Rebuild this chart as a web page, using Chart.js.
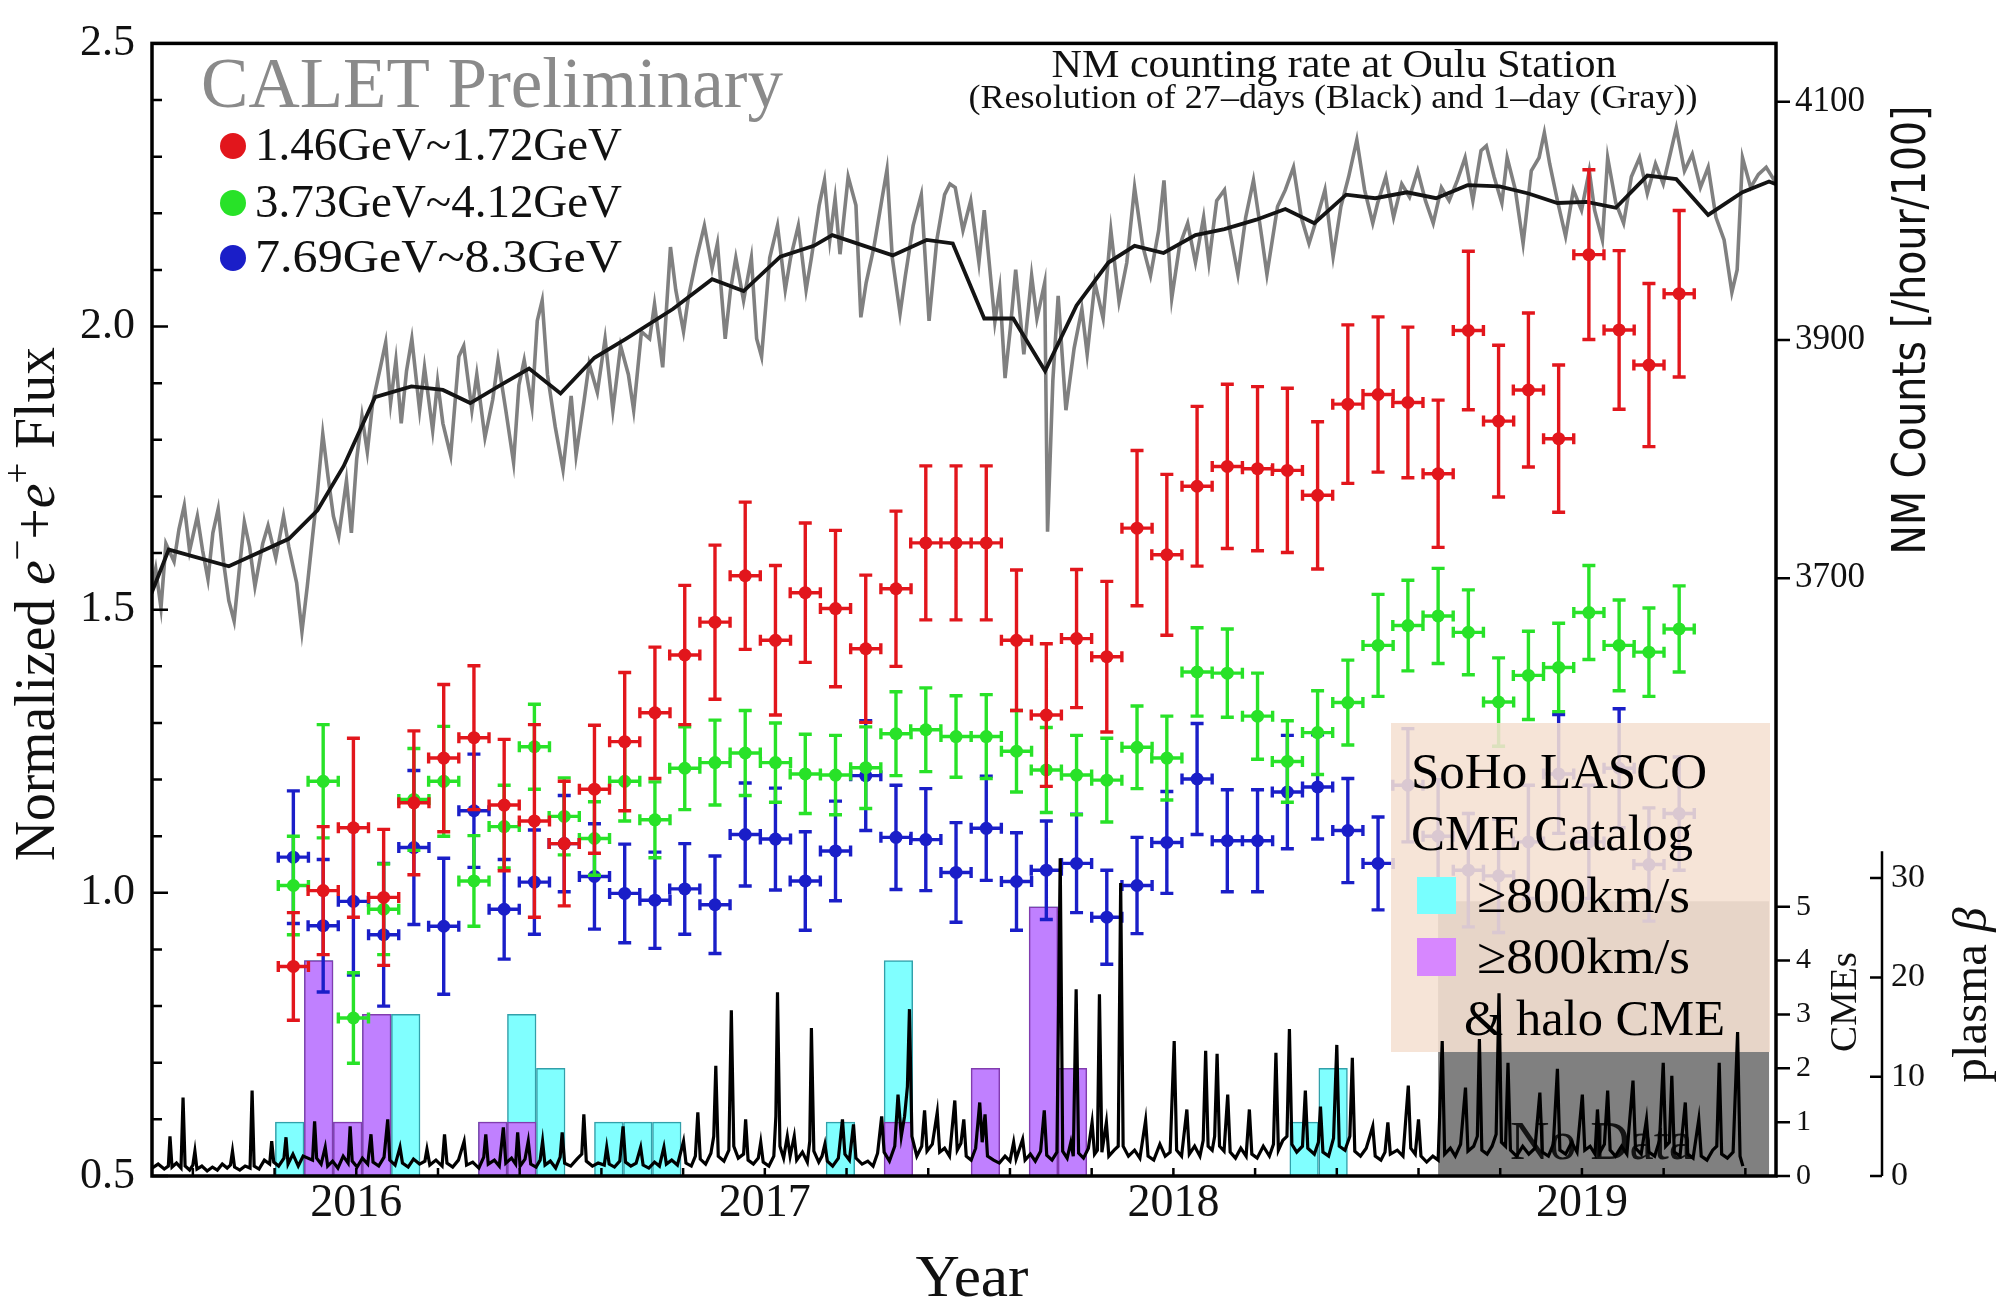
<!DOCTYPE html>
<html>
<head>
<meta charset="utf-8">
<script src="https://cdn.jsdelivr.net/npm/chart.js@4.4.1/dist/chart.umd.min.js"></script>
<style>
html,body{margin:0;padding:0;background:#fff;}
canvas{display:block;}
</style>
</head>
<body>
<canvas id="c" width="2014" height="1303"></canvas>
<script>
// ================= DATA =================
const yearTicks = [2016, 2017, 2018, 2019];
const fluxTicks = [0.5, 1.0, 1.5, 2.0, 2.5];
const nmTicks = [3700, 3900, 4100];
const cmeTicks = [0, 1, 2, 3, 4, 5];
const betaTicks = [0, 10, 20, 30];

const energyLabels = ['1.46GeV~1.72GeV', '3.73GeV~4.12GeV', '7.69GeV~8.3GeV'];

// 27-day bin centres (decimal year) of the CALET flux points
const fluxYears = [2015.846,2015.919,2015.993,2016.067,2016.141,2016.214,2016.288,2016.362,2016.436,2016.509,
  2016.583,2016.657,2016.731,2016.804,2016.878,2016.952,2017.026,2017.099,2017.173,2017.247,
  2017.321,2017.394,2017.468,2017.542,2017.616,2017.689,2017.763,2017.837,2017.911,2017.984,
  2018.058,2018.132,2018.206,2018.279,2018.353,2018.427,2018.501,2018.574,2018.648,2018.722,
  2018.796,2018.869,2018.943,2019.017,2019.091,2019.164,2019.238];
const fluxHalfBin = 0.0369;

const redFlux = [0.870,1.004,1.115,0.992,1.159,1.238,1.274,1.155,1.127,1.087,
  1.183,1.267,1.318,1.420,1.478,1.560,1.446,1.530,1.502,1.431,
  1.537,1.618,1.618,1.618,1.446,1.314,1.449,1.417,1.644,1.597,
  1.718,1.753,1.749,1.746,1.702,1.863,1.880,1.866,1.740,1.993,
  1.833,1.888,1.802,2.127,1.994,1.932,2.058];
const redErr = [0.095,0.113,0.158,0.12,0.127,0.13,0.127,0.116,0.17,0.11,
  0.113,0.122,0.116,0.123,0.136,0.13,0.132,0.123,0.138,0.13,
  0.137,0.136,0.136,0.136,0.124,0.126,0.122,0.133,0.137,0.142,
  0.141,0.145,0.145,0.145,0.13,0.14,0.137,0.133,0.13,0.14,
  0.134,0.136,0.13,0.15,0.14,0.144,0.147];

const greenFlux = [1.013,1.197,0.779,0.971,1.165,1.197,1.021,1.117,1.258,1.135,
  1.096,1.197,1.129,1.220,1.230,1.247,1.230,1.210,1.208,1.221,
  1.281,1.288,1.276,1.276,1.250,1.217,1.208,1.199,1.257,1.238,
  1.390,1.388,1.312,1.232,1.283,1.336,1.437,1.472,1.489,1.460,
  1.337,1.384,1.398,1.495,1.437,1.425,1.466];
const greenErr = [0.087,0.10,0.08,0.08,0.09,0.097,0.08,0.073,0.075,0.068,
  0.065,0.07,0.067,0.073,0.075,0.075,0.07,0.07,0.07,0.072,
  0.074,0.074,0.072,0.074,0.072,0.075,0.07,0.074,0.073,0.074,
  0.078,0.078,0.076,0.072,0.074,0.075,0.09,0.08,0.084,0.075,
  0.078,0.078,0.078,0.083,0.08,0.078,0.076];

const blueFlux = [1.063,0.942,0.985,0.926,1.080,0.941,1.145,0.971,1.019,1.087,
  1.029,0.999,0.987,1.007,0.979,1.103,1.095,1.021,1.074,1.207,
  1.098,1.094,1.036,1.114,1.020,1.040,1.052,0.957,1.013,1.089,
  1.201,1.092,1.092,1.178,1.187,1.110,1.052,1.19,1.10,1.04,
  1.03,1.09,1.21,1.09,1.22,1.05,1.14];
const blueErr = [0.117,0.117,0.13,0.126,0.136,0.12,0.10,0.088,0.092,0.085,
  0.093,0.087,0.085,0.08,0.086,0.091,0.09,0.087,0.088,0.097,
  0.092,0.09,0.088,0.092,0.086,0.087,0.087,0.083,0.085,0.09,
  0.098,0.09,0.09,0.10,0.092,0.092,0.082,0.1,0.1,0.1,
  0.1,0.1,0.105,0.1,0.105,0.1,0.1];

// SoHo LASCO CME counts per bin
const barYears = [2015.837,2015.908,2015.979,2016.050,2016.121,2016.192,2016.263,2016.334,2016.405,2016.476,
  2016.547,2016.618,2016.689,2016.760,2016.831,2016.901,2016.972,2017.043,2017.114,2017.185,
  2017.256,2017.327,2017.398,2017.469,2017.540,2017.611,2017.682,2017.753,2017.824,2017.895,
  2017.966,2018.037,2018.108,2018.179,2018.250,2018.320,2018.391];
const cmeFast = [1,4,1,3,3,0,0,1,3,2, 0,1,1,1,0,0,0,0,0,1, 0,4,0,0,2,0,5,2,0,0, 0,0,0,0,0,1,2];
const cmeHalo = [0,4,1,3,0,0,0,1,1,0, 0,0,0,0,0,0,0,0,0,0, 0,1,0,0,2,0,5,2,0,0, 0,0,0,0,0,0,0];

const noDataYears = [2018.648, 2019.458];
const noDataCmeTop = 5.1;
const betaAxisTop = 32.7;

// Oulu NM counting rate, 27-day resolution [year, counts/hour/100]
const nm27 = [[2015.496,3685],[2015.541,3724],[2015.688,3710],[2015.835,3733],[2015.905,3757],[2015.969,3794],
  [2016.046,3852],[2016.135,3861],[2016.212,3858],[2016.279,3847],[2016.353,3862],[2016.423,3876],[2016.500,3855],
  [2016.583,3885],[2016.660,3901],[2016.775,3926],[2016.871,3951],[2016.948,3941],[2017.038,3970],[2017.120,3979],
  [2017.165,3988],[2017.313,3971],[2017.396,3984],[2017.460,3981],[2017.537,3918],[2017.608,3918],[2017.686,3874],
  [2017.763,3929],[2017.841,3965],[2017.905,3979],[2017.976,3973],[2018.054,3988],[2018.125,3993],[2018.203,4001],
  [2018.274,4010],[2018.345,3998],[2018.423,4022],[2018.494,4019],[2018.572,4024],[2018.643,4019],[2018.720,4030],
  [2018.798,4029],[2018.869,4023],[2018.940,4015],[2019.011,4016],[2019.083,4011],[2019.160,4038],[2019.231,4035],
  [2019.309,4005],[2019.393,4024],[2019.458,4033],[2019.481,4030]];

// Oulu NM counting rate, 1-day resolution (traced peaks and troughs)
const nmDaily = [[2015.496,3687],[2015.509,3708],[2015.522,3675],[2015.534,3729],[2015.554,3714],[2015.566,3741],
  [2015.579,3761],[2015.592,3723],[2015.611,3752],[2015.624,3723],[2015.637,3699],[2015.649,3738],[2015.662,3758],
  [2015.675,3714],[2015.688,3681],[2015.701,3664],[2015.713,3705],[2015.726,3747],[2015.739,3726],[2015.752,3693],
  [2015.771,3729],[2015.784,3744],[2015.803,3717],[2015.822,3752],[2015.835,3726],[2015.854,3696],[2015.867,3655],
  [2015.880,3693],[2015.893,3735],[2015.905,3773],[2015.918,3821],[2015.931,3785],[2015.944,3752],[2015.957,3735],
  [2015.976,3782],[2015.988,3738],[2016.001,3800],[2016.014,3836],[2016.027,3806],[2016.040,3847],[2016.059,3877],
  [2016.072,3898],[2016.084,3847],[2016.097,3883],[2016.110,3830],[2016.123,3874],[2016.136,3901],[2016.155,3841],
  [2016.167,3877],[2016.187,3824],[2016.199,3865],[2016.212,3830],[2016.231,3803],[2016.251,3886],[2016.263,3895],
  [2016.283,3841],[2016.295,3871],[2016.315,3818],[2016.334,3850],[2016.347,3883],[2016.366,3841],[2016.385,3797],
  [2016.398,3862],[2016.411,3883],[2016.430,3844],[2016.443,3916],[2016.455,3933],[2016.468,3871],[2016.487,3827],
  [2016.506,3791],[2016.526,3853],[2016.538,3803],[2016.558,3850],[2016.570,3880],[2016.590,3856],[2016.609,3901],
  [2016.628,3841],[2016.647,3895],[2016.666,3871],[2016.679,3841],[2016.698,3907],[2016.718,3901],[2016.730,3930],
  [2016.750,3877],[2016.769,3978],[2016.782,3942],[2016.801,3907],[2016.813,3936],[2016.833,3969],[2016.852,3996],
  [2016.871,3960],[2016.884,3981],[2016.903,3901],[2016.916,3942],[2016.929,3969],[2016.948,3933],[2016.967,3969],
  [2016.980,3901],[2016.992,3886],[2017.012,3969],[2017.031,3996],[2017.050,3942],[2017.063,3969],[2017.082,3996],
  [2017.101,3942],[2017.114,3969],[2017.133,4013],[2017.146,4034],[2017.159,3984],[2017.172,4019],[2017.184,3972],
  [2017.204,4037],[2017.223,4013],[2017.235,3919],[2017.248,3948],[2017.267,3978],[2017.287,4019],[2017.299,4043],
  [2017.312,3969],[2017.331,3922],[2017.344,3954],[2017.363,3996],[2017.383,4022],[2017.402,3916],[2017.421,3984],
  [2017.440,4022],[2017.453,4031],[2017.466,4028],[2017.485,3992],[2017.504,4017],[2017.524,3965],[2017.537,4009],
  [2017.550,3962],[2017.563,3915],[2017.575,3943],[2017.588,3868],[2017.601,3910],[2017.614,3959],[2017.634,3888],
  [2017.653,3954],[2017.666,3918],[2017.685,3948],[2017.692,3739],[2017.705,3866],[2017.718,3937],[2017.737,3841],
  [2017.757,3893],[2017.776,3926],[2017.789,3888],[2017.808,3948],[2017.828,3918],[2017.847,3992],[2017.867,3932],
  [2017.886,3965],[2017.905,4028],[2017.925,3979],[2017.944,3954],[2017.964,3992],[2017.977,4034],[2017.996,3935],
  [2018.015,3979],[2018.035,3998],[2018.054,3965],[2018.074,4003],[2018.087,3965],[2018.106,4017],[2018.125,4026],
  [2018.138,3992],[2018.158,3955],[2018.177,4003],[2018.196,4034],[2018.216,3987],[2018.229,3955],[2018.255,4012],
  [2018.274,4026],[2018.294,4045],[2018.313,4003],[2018.332,3981],[2018.352,4003],[2018.371,4026],[2018.391,3970],
  [2018.410,4012],[2018.429,4037],[2018.449,4068],[2018.468,4026],[2018.488,3998],[2018.500,4015],[2018.520,4037],
  [2018.539,4003],[2018.559,4031],[2018.578,4020],[2018.598,4042],[2018.617,4017],[2018.636,3998],[2018.656,4028],
  [2018.675,4017],[2018.695,4034],[2018.714,4053],[2018.733,4017],[2018.753,4059],[2018.766,4063],[2018.785,4037],
  [2018.804,4015],[2018.817,4053],[2018.837,4026],[2018.856,3981],[2018.876,4042],[2018.895,4053],[2018.908,4074],
  [2018.921,4048],[2018.940,4017],[2018.960,3987],[2018.979,4026],[2018.999,4009],[2019.018,4042],[2019.031,4009],
  [2019.050,3984],[2019.063,4053],[2019.083,4015],[2019.102,3998],[2019.121,4037],[2019.141,4053],[2019.160,4023],
  [2019.180,4048],[2019.199,4031],[2019.218,4059],[2019.231,4078],[2019.251,4042],[2019.270,4056],[2019.290,4028],
  [2019.309,4045],[2019.328,4003],[2019.348,3984],[2019.367,3940],[2019.380,3959],[2019.393,4053],[2019.413,4028],
  [2019.432,4039],[2019.451,4045],[2019.471,4034],[2019.481,4042]];

// plasma beta (daily, traced baseline and spikes)
const plasmaBeta = [[2015.500,0.8],[2015.515,1.2],[2015.530,0.7],[2015.540,1.0],[2015.544,4.0],[2015.549,0.9],[2015.560,1.3],[2015.571,0.8],[2015.576,7.9],[2015.581,1.0],
  [2015.592,0.6],[2015.600,1.1],[2015.605,2.5],[2015.610,0.7],[2015.622,1.0],[2015.635,0.5],[2015.648,0.9],[2015.660,0.6],[2015.672,1.2],[2015.684,0.8],
  [2015.692,1.1],[2015.697,2.5],[2015.702,0.9],[2015.715,0.6],[2015.728,1.0],[2015.740,0.8],[2015.745,8.6],[2015.750,1.0],[2015.762,0.7],[2015.775,1.6],
  [2015.788,1.2],[2015.793,3.5],[2015.798,1.4],[2015.810,1.0],[2015.823,1.8],[2015.828,3.9],[2015.833,1.2],[2015.845,2.2],[2015.858,1.0],[2015.870,2.0],
  [2015.893,1.6],[2015.898,5.5],[2015.903,1.8],[2015.914,1.2],[2015.924,2.9],[2015.930,1.0],[2015.942,1.5],[2015.955,0.8],[2015.968,2.0],[2015.980,1.3],
  [2015.985,5.0],[2015.990,1.5],[2016.002,0.9],[2016.015,1.8],[2016.028,1.2],[2016.036,4.2],[2016.041,1.4],[2016.055,1.0],[2016.068,1.9],[2016.077,5.7],
  [2016.082,1.6],[2016.095,1.1],[2016.107,2.9],[2016.113,1.3],[2016.127,0.9],[2016.140,1.7],[2016.155,1.2],[2016.168,1.5],[2016.173,2.7],[2016.180,1.1],
  [2016.195,1.6],[2016.210,1.0],[2016.216,4.2],[2016.222,1.3],[2016.236,0.9],[2016.250,1.6],[2016.264,3.5],[2016.270,1.1],[2016.285,1.4],[2016.300,0.8],
  [2016.312,1.9],[2016.317,4.2],[2016.323,1.2],[2016.338,1.6],[2016.350,1.0],[2016.360,4.9],[2016.366,1.3],[2016.380,1.8],[2016.390,1.2],[2016.395,4.4],
  [2016.401,1.0],[2016.413,1.7],[2016.421,3.5],[2016.427,1.2],[2016.440,0.9],[2016.450,1.6],[2016.456,3.5],[2016.462,1.1],[2016.475,1.5],[2016.488,0.8],
  [2016.499,1.9],[2016.504,4.4],[2016.510,1.3],[2016.525,1.0],[2016.540,1.7],[2016.552,2.2],[2016.557,6.2],[2016.563,1.5],[2016.578,1.0],[2016.592,1.3],
  [2016.607,1.1],[2016.613,2.9],[2016.619,1.2],[2016.632,0.9],[2016.645,1.5],[2016.653,5.0],[2016.659,1.4],[2016.672,1.0],[2016.685,1.3],[2016.696,2.9],
  [2016.702,1.1],[2016.716,0.8],[2016.730,1.4],[2016.742,1.0],[2016.753,2.9],[2016.759,1.2],[2016.772,1.6],[2016.786,1.1],[2016.801,3.5],[2016.807,1.3],
  [2016.820,1.0],[2016.830,2.0],[2016.836,6.4],[2016.842,1.7],[2016.855,1.2],[2016.868,2.3],[2016.875,4.0],[2016.880,11.1],[2016.886,2.0],[2016.900,1.5],
  [2016.912,2.6],[2016.918,16.7],[2016.924,3.0],[2016.935,1.8],[2016.948,2.2],[2016.953,5.7],[2016.959,1.6],[2016.972,1.2],[2016.984,1.8],[2016.990,3.4],
  [2016.996,1.4],[2017.010,1.0],[2017.022,2.0],[2017.027,6.0],[2017.031,18.5],[2017.037,3.0],[2017.046,1.8],[2017.055,4.0],[2017.062,2.0],[2017.072,4.0],
  [2017.078,1.6],[2017.092,2.4],[2017.104,1.4],[2017.110,3.5],[2017.114,14.9],[2017.120,2.5],[2017.132,1.4],[2017.140,2.0],[2017.147,3.2],[2017.153,1.5],
  [2017.166,1.0],[2017.180,1.8],[2017.190,5.7],[2017.196,2.2],[2017.207,1.6],[2017.217,5.2],[2017.223,1.8],[2017.238,1.2],[2017.252,1.5],[2017.265,1.0],
  [2017.276,2.3],[2017.286,6.0],[2017.292,2.4],[2017.305,1.5],[2017.318,3.0],[2017.326,8.2],[2017.334,4.0],[2017.342,6.0],[2017.349,9.0],[2017.354,16.8],
  [2017.360,4.0],[2017.372,2.0],[2017.384,3.0],[2017.391,6.6],[2017.397,2.5],[2017.410,3.2],[2017.422,6.4],[2017.428,2.4],[2017.440,2.8],[2017.452,2.0],
  [2017.465,7.6],[2017.471,2.6],[2017.480,3.3],[2017.487,5.7],[2017.493,2.0],[2017.505,1.6],[2017.516,2.8],[2017.526,7.4],[2017.532,3.4],[2017.539,6.2],
  [2017.545,2.0],[2017.560,1.6],[2017.574,1.3],[2017.588,2.0],[2017.600,1.5],[2017.609,3.4],[2017.615,1.7],[2017.631,3.7],[2017.637,1.6],[2017.650,2.2],
  [2017.662,1.5],[2017.675,2.5],[2017.684,6.6],[2017.690,2.1],[2017.703,1.6],[2017.715,2.4],[2017.723,32.0],[2017.729,2.5],[2017.740,1.8],[2017.749,3.4],
  [2017.755,2.0],[2017.762,18.8],[2017.768,2.3],[2017.780,1.8],[2017.792,2.8],[2017.801,5.4],[2017.807,2.2],[2017.814,2.6],[2017.819,18.3],[2017.825,2.4],
  [2017.836,5.4],[2017.842,2.0],[2017.855,2.6],[2017.865,3.0],[2017.871,29.5],[2017.877,3.0],[2017.890,2.0],[2017.905,2.6],[2017.918,1.8],[2017.932,5.6],
  [2017.938,2.0],[2017.952,1.6],[2017.967,3.2],[2017.980,2.0],[2017.992,2.4],[2018.002,13.6],[2018.008,2.6],[2018.020,2.0],[2018.033,6.7],[2018.039,2.2],
  [2018.052,3.0],[2018.065,2.0],[2018.073,3.6],[2018.079,12.6],[2018.085,3.0],[2018.095,2.6],[2018.101,4.0],[2018.107,12.3],[2018.113,3.0],[2018.124,2.5],
  [2018.133,8.2],[2018.139,2.4],[2018.152,1.8],[2018.165,2.8],[2018.178,2.0],[2018.186,6.7],[2018.192,2.2],[2018.205,1.8],[2018.220,3.0],[2018.235,2.0],
  [2018.245,3.2],[2018.251,12.4],[2018.257,2.6],[2018.268,3.6],[2018.278,4.0],[2018.284,14.8],[2018.290,3.2],[2018.302,2.4],[2018.316,3.0],[2018.323,8.6],
  [2018.329,2.8],[2018.345,2.2],[2018.355,3.4],[2018.360,7.0],[2018.366,2.4],[2018.380,2.0],[2018.392,3.8],[2018.400,13.2],[2018.406,3.0],[2018.420,2.6],
  [2018.432,4.0],[2018.438,11.9],[2018.444,2.5],[2018.458,2.0],[2018.472,2.8],[2018.488,5.0],[2018.494,2.0],[2018.508,1.6],[2018.518,2.4],[2018.525,5.4],
  [2018.531,2.2],[2018.548,2.6],[2018.562,2.0],[2018.575,9.1],[2018.581,2.8],[2018.592,2.2],[2018.600,5.7],[2018.606,2.0],[2018.620,1.4],[2018.635,2.0],
  [2018.648,1.6],[2018.658,13.6],[2018.664,2.2],[2018.678,2.8],[2018.690,2.0],[2018.703,3.2],[2018.715,8.9],[2018.721,2.5],[2018.735,3.0],[2018.744,4.0],
  [2018.749,13.8],[2018.755,2.6],[2018.768,2.2],[2018.780,3.0],[2018.790,4.2],[2018.797,18.4],[2018.803,3.4],[2018.813,3.0],[2018.819,11.4],[2018.825,2.6],
  [2018.840,2.0],[2018.855,3.0],[2018.870,2.2],[2018.885,2.8],[2018.897,8.4],[2018.903,2.4],[2018.918,2.0],[2018.930,3.2],[2018.940,10.8],[2018.946,2.6],
  [2018.960,2.2],[2018.975,3.4],[2018.988,2.4],[2019.001,8.2],[2019.007,2.6],[2019.020,3.0],[2019.032,2.2],[2019.038,6.7],[2019.044,2.4],[2019.055,3.2],
  [2019.063,8.6],[2019.069,2.6],[2019.082,2.0],[2019.097,3.0],[2019.110,2.2],[2019.125,9.6],[2019.131,2.8],[2019.145,2.2],[2019.158,5.7],[2019.164,2.4],
  [2019.178,2.0],[2019.190,3.6],[2019.199,11.4],[2019.205,3.0],[2019.214,3.4],[2019.220,10.1],[2019.226,2.4],[2019.240,2.0],[2019.253,7.4],[2019.259,2.2],
  [2019.272,1.8],[2019.286,5.7],[2019.292,2.0],[2019.306,1.6],[2019.320,2.6],[2019.330,3.0],[2019.336,11.4],[2019.342,2.2],[2019.356,1.8],[2019.370,2.4],
  [2019.381,14.5],[2019.387,2.0],[2019.394,1.0]];

// ================= RENDERING =================
const SERIF = '"Liberation Serif","Times New Roman",serif';
const SANS = '"DejaVu Sans","Liberation Sans",sans-serif';
const RED = 'rgb(226,22,28)', GREEN = 'rgb(40,226,40)', BLUE = 'rgb(26,30,200)';

function fitText(ctx, str, x, y, font, width, align, color) {
  ctx.save();
  ctx.font = font; ctx.fillStyle = color || '#000';
  ctx.textBaseline = 'alphabetic'; ctx.textAlign = 'left';
  const w = ctx.measureText(str).width;
  const s = width ? width / w : 1;
  let x0 = x;
  if (align === 'center') x0 = x - w * s / 2;
  else if (align === 'right') x0 = x - w * s;
  ctx.translate(x0, y); ctx.scale(s, 1);
  ctx.fillText(str, 0, 0);
  ctx.restore();
}
function rotText(ctx, segs, cx, cy, totalWidth, color) {
  ctx.save();
  ctx.translate(cx, cy); ctx.rotate(-Math.PI / 2);
  ctx.fillStyle = color || '#000'; ctx.textBaseline = 'alphabetic'; ctx.textAlign = 'left';
  let w = 0;
  segs.forEach(s => { ctx.font = s.font; s.w = ctx.measureText(s.t).width; w += s.w; });
  const k = totalWidth ? totalWidth / w : 1;
  ctx.scale(k, 1);
  let x = -w / 2;
  segs.forEach(s => { ctx.font = s.font; ctx.fillText(s.t, x, s.dy || 0); x += s.w; });
  ctx.restore();
}
function drawErrorBars(chart, ds) {
  const { ctx, scales: { x, y } } = chart;
  ctx.save();
  ctx.strokeStyle = ds.borderColor; ctx.lineWidth = 3.4;
  ctx.beginPath();
  ds.data.forEach((p, i) => {
    const px = x.getPixelForValue(p.x), py = y.getPixelForValue(p.y);
    const yt = y.getPixelForValue(p.y + ds.errY[i]), yb = y.getPixelForValue(p.y - ds.errY[i]);
    const xl = x.getPixelForValue(p.x - fluxHalfBin), xr = x.getPixelForValue(p.x + fluxHalfBin);
    ctx.moveTo(px, yt); ctx.lineTo(px, yb);
    ctx.moveTo(px - 6.5, yt); ctx.lineTo(px + 6.5, yt);
    ctx.moveTo(px - 6.5, yb); ctx.lineTo(px + 6.5, yb);
    ctx.moveTo(xl, py); ctx.lineTo(xr, py);
    ctx.moveTo(xl, py - 5.5); ctx.lineTo(xl, py + 5.5);
    ctx.moveTo(xr, py - 5.5); ctx.lineTo(xr, py + 5.5);
  });
  ctx.stroke();
  ctx.restore();
}
function drawCmeLegend(ctx) {
  ctx.save();
  ctx.fillStyle = 'rgba(245,224,210,0.88)';
  ctx.fillRect(1391, 723, 379, 329);
  ctx.fillStyle = 'rgb(120,255,255)'; ctx.fillRect(1417, 877, 39, 37);
  ctx.fillStyle = 'rgb(215,135,255)'; ctx.fillRect(1417, 938, 39, 38);
  const f = '51px ' + SERIF;
  fitText(ctx, 'SoHo LASCO', 1411, 788, f, 296);
  fitText(ctx, 'CME Catalog', 1411, 850, f, 282);
  fitText(ctx, '\u2265800km/s', 1477, 912, f, 213);
  fitText(ctx, '\u2265800km/s', 1477, 973, f, 213);
  fitText(ctx, '& halo CME', 1464, 1035, f, 261);
  ctx.restore();
}

const decor = {
  id: 'decor',
  beforeDatasetsDraw(chart) {
    const { ctx, scales: { x, yCME } } = chart;
    const x0 = x.getPixelForValue(noDataYears[0]), x1 = x.getPixelForValue(noDataYears[1]);
    const y0 = yCME.getPixelForValue(noDataCmeTop), y1 = yCME.getPixelForValue(0);
    ctx.save();
    ctx.fillStyle = 'rgb(128,128,128)';
    ctx.fillRect(x0, y0, x1 - x0, y1 - y0);
    ctx.restore();
    fitText(ctx, 'No Data', 1510, 1159, '55px ' + SERIF, 183, 'left', '#141414');
  },
  beforeDatasetDraw(chart, args) {
    const ds = chart.data.datasets[args.index];
    if (ds.errY) drawErrorBars(chart, ds);
    if (ds.tag === 'beta') drawCmeLegend(chart.ctx);
  },
  afterDatasetsDraw(chart) {
    const { ctx, chartArea: ca, scales: { x, y, yNM, yCME, yBeta } } = chart;
    ctx.save();
    ctx.strokeStyle = '#000';
    ctx.lineWidth = 2.5;
    ctx.beginPath();
    for (let i = 0; i <= 20; i++) {
      const py = y.getPixelForValue(0.5 + i * 0.1);
      const len = (i % 5 === 0) ? 16 : 10;
      ctx.moveTo(ca.left, py); ctx.lineTo(ca.left + len, py);
    }
    for (let i = 0; i < 20; i++) {
      const px = x.getPixelForValue(2015.6 + i * 0.2);
      ctx.moveTo(px, ca.bottom); ctx.lineTo(px, ca.bottom - 8);
    }
    nmTicks.forEach(v => { const py = yNM.getPixelForValue(v); ctx.moveTo(ca.right, py); ctx.lineTo(ca.right + 14, py); });
    cmeTicks.forEach(v => { const py = yCME.getPixelForValue(v); ctx.moveTo(ca.right, py); ctx.lineTo(ca.right + 14, py); });
    ctx.stroke();

    // plasma beta axis
    const bx = 1882;
    ctx.lineWidth = 2.5;
    ctx.beginPath();
    ctx.moveTo(bx, yBeta.getPixelForValue(0)); ctx.lineTo(bx, yBeta.getPixelForValue(betaAxisTop));
    betaTicks.forEach(v => { const py = yBeta.getPixelForValue(v); ctx.moveTo(bx - 12, py); ctx.lineTo(bx, py); });
    ctx.stroke();

    // frame
    ctx.lineWidth = 3.5;
    ctx.strokeRect(ca.left, ca.top, ca.right - ca.left, ca.bottom - ca.top);

    // right tick labels
    ctx.fillStyle = '#111';
    ctx.textAlign = 'left'; ctx.textBaseline = 'middle';
    ctx.font = '35px ' + SERIF;
    nmTicks.forEach(v => ctx.fillText(String(v), 1795, yNM.getPixelForValue(v)));
    ctx.font = '30px ' + SERIF;
    cmeTicks.forEach(v => ctx.fillText(String(v), 1796, yCME.getPixelForValue(v)));
    ctx.font = '34px ' + SERIF;
    betaTicks.forEach(v => ctx.fillText(String(v), 1891, yBeta.getPixelForValue(v)));

    // axis titles
    const f = '57px ' + SERIF, fi = 'italic 57px ' + SERIF, fs = '38px ' + SERIF;
    rotText(ctx, [
      { t: 'Normalized ', font: f }, { t: 'e', font: fi }, { t: '\u2212', font: fs, dy: -24 },
      { t: '+', font: f }, { t: 'e', font: fi }, { t: '+', font: fs, dy: -24 }, { t: ' Flux', font: f }
    ], 54, 604, 514, '#111');
    fitText(ctx, 'Year', 972, 1296, '59px ' + SERIF, 113, 'center', '#111');
    rotText(ctx, [{ t: 'NM Counts [/hour/100]', font: '46px ' + SANS }], 1925, 330, 449, '#111');
    rotText(ctx, [{ t: 'CMEs', font: '38px ' + SERIF }], 1856, 1002, 100, '#111');
    rotText(ctx, [{ t: 'plasma ', font: '49px ' + SERIF }, { t: '\u03b2', font: 'italic 49px ' + SERIF }], 1986, 995, 175, '#111');

    // in-plot annotations
    fitText(ctx, 'CALET Preliminary', 201, 107, '72px ' + SERIF, 582, 'left', '#8a8a8a');
    const cols = [RED, GREEN, BLUE], ys = [160, 217, 272];
    energyLabels.forEach((lab, i) => {
      ctx.beginPath(); ctx.fillStyle = cols[i];
      ctx.arc(233, ys[i] - 14, 13, 0, Math.PI * 2); ctx.fill();
      fitText(ctx, lab, 255, ys[i], '47px ' + SERIF, 367, 'left', '#111');
    });
    fitText(ctx, 'NM counting rate at Oulu Station', 1334, 77, '41px ' + SERIF, 565, 'center', '#111');
    fitText(ctx, '(Resolution of 27\u2013days (Black) and 1\u2013day (Gray))', 1333, 108, '34px ' + SERIF, 729, 'center', '#111');
    ctx.restore();
  }
};

const toPts = arr => arr.map(p => ({ x: p[0], y: p[1] }));

new Chart(document.getElementById('c'), {
  type: 'scatter',
  data: {
    datasets: [
      { tag: 'beta', type: 'line', data: toPts(plasmaBeta), yAxisID: 'yBeta', borderColor: '#000', borderWidth: 3.2,
        pointRadius: 0, tension: 0, order: 0 },
      { type: 'scatter', data: fluxYears.map((x, i) => ({ x, y: redFlux[i] })), errY: redErr, yAxisID: 'y',
        backgroundColor: RED, borderColor: RED, pointRadius: 6.5, pointBorderWidth: 0, order: 1 },
      { type: 'scatter', data: fluxYears.map((x, i) => ({ x, y: greenFlux[i] })), errY: greenErr, yAxisID: 'y',
        backgroundColor: GREEN, borderColor: GREEN, pointRadius: 6.5, pointBorderWidth: 0, order: 2 },
      { type: 'scatter', data: fluxYears.map((x, i) => ({ x, y: blueFlux[i] })), errY: blueErr, yAxisID: 'y',
        backgroundColor: BLUE, borderColor: BLUE, pointRadius: 6.5, pointBorderWidth: 0, order: 3 },
      { type: 'line', data: toPts(nm27), yAxisID: 'yNM', borderColor: '#141414', borderWidth: 3.8,
        pointRadius: 0, tension: 0, order: 5 },
      { type: 'line', data: toPts(nmDaily), yAxisID: 'yNM', borderColor: 'rgb(128,128,128)', borderWidth: 3.6,
        pointRadius: 0, tension: 0, order: 6 },
      { type: 'bar', data: barYears.map((x, i) => ({ x, y: cmeHalo[i] || null })), yAxisID: 'yCME',
        backgroundColor: 'rgb(192,128,255)', borderColor: 'rgb(130,60,175)', borderWidth: 1.5, borderSkipped: false,
        grouped: false, barPercentage: 1, categoryPercentage: 1, order: 8 },
      { type: 'bar', data: barYears.map((x, i) => ({ x, y: cmeFast[i] || null })), yAxisID: 'yCME',
        backgroundColor: 'rgb(128,255,255)', borderColor: 'rgb(50,160,170)', borderWidth: 1.5, borderSkipped: false,
        grouped: false, barPercentage: 1, categoryPercentage: 1, order: 9 }
    ]
  },
  options: {
    responsive: false, animation: false, devicePixelRatio: 1, events: [],
    layout: { padding: { top: 32, right: 238, left: 0, bottom: 0 } },
    plugins: { legend: { display: false }, tooltip: { enabled: false } },
    scales: {
      x: {
        type: 'linear', position: 'bottom', min: 2015.5, max: 2019.475, offset: false,
        afterBuildTicks: s => { s.ticks = yearTicks.map(v => ({ value: v })); },
        afterFit: s => { s.height = 127; },
        grid: { display: false, drawTicks: false, offset: false }, border: { display: false },
        ticks: { font: { family: SERIF, size: 46 }, color: '#111', padding: 0, maxRotation: 0, autoSkip: false,
          callback: v => String(v) }
      },
      y: {
        type: 'linear', position: 'left', min: 0.5, max: 2.5,
        afterBuildTicks: s => { s.ticks = fluxTicks.map(v => ({ value: v })); },
        afterFit: s => { s.width = 152; },
        grid: { display: false, drawTicks: false }, border: { display: false },
        ticks: { font: { family: SERIF, size: 44 }, color: '#111', padding: 17, callback: v => Number(v).toFixed(1) }
      },
      yNM: { type: 'linear', position: 'right', display: false, min: 3198, max: 4149 },
      yCME: { type: 'linear', position: 'right', display: false, min: 0, max: 21.03 },
      yBeta: { type: 'linear', position: 'right', display: false, min: 0, max: 114.05 }
    }
  },
  plugins: [decor]
});
</script>
</body>
</html>
